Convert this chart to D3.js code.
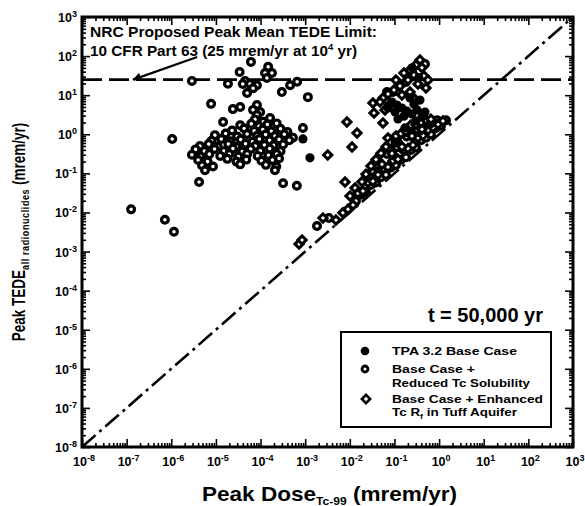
<!DOCTYPE html>
<html>
<head>
<meta charset="utf-8">
<title>Peak TEDE vs Peak Tc-99 Dose</title>
<script src="https://d3js.org/d3.v7.min.js"></script>
<style>
  body { margin: 0; background: #fff; }
  text { font-family: "Liberation Sans", Arial, sans-serif; font-weight: bold; fill: #000; }
</style>
</head>
<body>
<div id="chart"></div>
<script>
// ---- data (mrem/yr) ----
const decades = [1e-8, 1e-7, 1e-6, 1e-5, 1e-4, 1e-3, 1e-2, 1e-1, 1e0, 1e1, 1e2, 1e3];
const decadeExp = ["-8", "-7", "-6", "-5", "-4", "-3", "-2", "-1", "0", "1", "2", "3"];
const limitTEDE = 25;                 // proposed limit, mrem/yr
const arrowFrom = [3.8e-6, 95];
const arrowTo = [1.4e-7, 25];

// TPA 3.2 base case (filled circles)
const baseCase = [
  [8.9e-4, 0.76], [1.28e-3, 0.25], [0.088, 6.7], [0.114, 5.6], [0.147, 4.7], [0.19, 3.9],
  [0.247, 3.3], [0.32, 4.2], [0.103, 3.7], [0.163, 2.9], [0.274, 5.9], [0.373, 7.5],
  [0.223, 8.5], [0.12, 2.46], [0.303, 2.18], [0.413, 2.77], [0.12, 0.63], [0.103, 0.6],
  [0.172, 1.45], [0.483, 3.7], [0.0716, 4.7], [0.25, 50], [0.35, 28]
];

// base case + reduced Tc solubility (open circles)
const reducedSolubility = [
  [1.26e-7, 0.012], [7.2e-7, 6.5e-3], [1.15e-6, 3.2e-3], [1.05e-6, 0.76], [4.2e-6, 0.06],
  [2.9e-6, 23], [7.8e-6, 6.0], [1.45e-5, 2.06], [1.86e-5, 19.6], [3.4e-5, 39], [6.1e-5, 71],
  [5.0e-5, 11.4], [4.5e-5, 23], [4.0e-5, 19.3], [5.8e-5, 19.3], [8.3e-5, 18], [6.8e-5, 15],
  [1.48e-4, 53], [1.8e-4, 37], [1.26e-4, 37], [1.39e-4, 27.5], [3.0e-4, 12], [4.6e-4, 18],
  [6.6e-4, 22], [2.4e-5, 4.4], [3.5e-5, 5.0], [8.3e-5, 5.6], [6.8e-5, 4.2], [9.8e-5, 3.7],
  [8.3e-5, 3.1], [3.2e-4, 0.056], [6.5e-4, 0.048], [1.15e-3, 8.9], [8.9e-4, 1.45],
  [7.5e-5, 2.4], [1.15e-4, 2.1], [1.63e-4, 2.6],
  [3.5e-5, 1.7], [6.2e-5, 1.85], [9.2e-5, 1.6], [1.42e-4, 1.78], [2.3e-4, 1.9],
  [2.3e-5, 1.25], [4.3e-5, 1.4], [7.2e-5, 1.22], [1.12e-4, 1.32], [1.75e-4, 1.2], [2.8e-4, 1.38], [4.0e-4, 1.15],
  [9.5e-6, 0.95], [1.65e-5, 1.05], [3.0e-5, 0.88], [5.0e-5, 1.02], [8.4e-5, 0.92], [1.3e-4, 0.98],
  [2.1e-4, 0.9], [3.4e-4, 1.0], [5.3e-4, 0.82],
  [8.0e-6, 0.68], [1.32e-5, 0.76], [2.1e-5, 0.66], [3.6e-5, 0.73], [6.6e-5, 0.64], [9.4e-5, 0.76],
  [1.6e-4, 0.7], [2.6e-4, 0.74], [4.4e-4, 0.7],
  [4.4e-6, 0.5], [6.9e-6, 0.56], [1.1e-5, 0.48], [1.9e-5, 0.56], [2.9e-5, 0.48], [4.6e-5, 0.57],
  [7.6e-5, 0.5], [1.22e-4, 0.53], [1.95e-4, 0.52], [3.2e-4, 0.55],
  [3.5e-6, 0.41], [5.5e-6, 0.37], [9.3e-6, 0.42], [1.5e-5, 0.37], [2.4e-5, 0.43], [3.9e-5, 0.36],
  [6.0e-5, 0.42], [9.9e-5, 0.38], [1.6e-4, 0.43], [2.8e-4, 0.37],
  [2.9e-6, 0.3], [4.5e-6, 0.27], [7.1e-6, 0.31], [1.25e-5, 0.28], [2.0e-5, 0.31], [3.2e-5, 0.27],
  [5.0e-5, 0.31], [8.6e-5, 0.28], [1.5e-4, 0.29], [2.3e-4, 0.31],
  [4.0e-6, 0.22], [6.5e-6, 0.2], [1.8e-5, 0.235], [2.9e-5, 0.2], [4.8e-5, 0.225], [1.05e-4, 0.21],
  [1.85e-4, 0.22], [2.6e-4, 0.24],
  [4.9e-6, 0.16], [8.6e-6, 0.15], [3.5e-5, 0.17], [1.32e-4, 0.165], [2.25e-4, 0.15],
  [5.7e-6, 0.12], [2.1e-4, 0.12],
  [1.84e-3, 4.5e-3], [3.4e-3, 7.2e-3],
  [0.0137, 0.0195], [0.0178, 0.0285], [0.023, 0.0327], [0.0298, 0.0507], [0.0386, 0.0583],
  [0.0499, 0.0798], [0.0646, 0.0917], [0.0836, 0.142], [0.108, 0.163], [0.14, 0.224],
  [0.181, 0.257], [0.234, 0.398], [0.303, 0.458], [0.393, 0.707], [0.508, 0.813],
  [0.658, 0.994], [0.851, 1.45], [1.10, 1.66], [1.43, 2.29],
  [0.0242, 0.07], [0.0406, 0.167], [0.068, 0.314], [0.114, 0.469], [0.19, 0.878],
  [0.32, 1.32], [0.535, 1.96], [0.895, 2.3],
  [0.247, 39], [0.181, 21.7], [0.068, 12.1], [0.0927, 12.1], [0.26, 8.5], [0.483, 63]
];

// base case + enhanced Tc Rf in tuff aquifer (open diamonds)
const enhancedRf = [
  [7.3e-4, 1.56e-3], [8.5e-4, 1.97e-3], [2.5e-3, 7.2e-3], [4.9e-3, 6.4e-3], [7.0e-3, 9.8e-3],
  [9.1e-3, 0.012], [0.0118, 0.0155],
  [7.8e-3, 0.06], [0.0101, 0.0264], [0.0131, 0.042], [0.0187, 0.0315], [8.6e-3, 2.06],
  [0.0145, 1.08], [0.0112, 0.47], [3.2e-3, 0.295], [0.033, 6.3], [0.0348, 3.5], [0.0553, 1.94],
  [0.0716, 0.8],
  [0.0152, 0.0309], [0.0197, 0.0355], [0.0255, 0.0581], [0.033, 0.063], [0.0428, 0.092],
  [0.0553, 0.134], [0.0716, 0.145], [0.0927, 0.211], [0.12, 0.229], [0.155, 0.398],
  [0.201, 0.432], [0.26, 0.528], [0.337, 0.816], [0.436, 0.937], [0.564, 1.29],
  [0.73, 1.48], [0.944, 1.8], [1.22, 2.2],
  [0.0187, 0.0608], [0.0313, 0.115], [0.0525, 0.171], [0.088, 0.322], [0.147, 0.478],
  [0.247, 0.904], [0.413, 1.34], [0.692, 2.0],
  [0.023, 0.0945], [0.0298, 0.155], [0.0386, 0.226], [0.0499, 0.328], [0.0646, 0.479],
  [0.0836, 0.619], [0.108, 0.9], [0.14, 1.04], [0.181, 1.19], [0.234, 1.73], [0.303, 1.77],
  [0.393, 2.04], [0.508, 2.35], [0.658, 2.41],
  [0.373, 79], [0.303, 59], [0.413, 50], [0.223, 44], [0.274, 33], [0.458, 31], [0.163, 37],
  [0.201, 24.5], [0.337, 19.3], [0.133, 17.2], [0.508, 15.3], [0.0975, 13.6], [0.223, 12.1],
  [0.0716, 10.7], [0.147, 10.1], [0.0553, 8.5], [0.0474, 6.7], [0.0794, 5.9], [0.0614, 4.2],
  [0.108, 24.5], [0.564, 24.5]
];

const legendItems = [
  { kind: "filled", lines: ["TPA 3.2 Base Case"], widths: [125] },
  { kind: "circle", lines: ["Base Case +", "Reduced Tc Solubility"], widths: [83, 138] },
  { kind: "diamond", lines: ["Base Case + Enhanced", "Tc R|f| in Tuff Aquifer"], widths: [151, 125] }
];

// ---- chart ----
const width = 585, height = 506;
const svg = d3.select("#chart").append("svg")
  .attr("width", width).attr("height", height);

const x = d3.scaleLog().domain([1e-8, 1e3]).range([82, 573]);
const y = d3.scaleLog().domain([1e-8, 1e3]).range([447, 17]);

// minor ticks 2..9 within each decade
const minor = [];
decades.slice(0, -1).forEach(d => { for (let k = 2; k < 10; k++) minor.push(d * k); });

function tickLayer(axis, transform, size, values) {
  svg.append("g").attr("transform", transform)
    .call(axis.tickValues(values).tickSize(size).tickFormat(""))
    .call(g => g.select(".domain").remove())
    .call(g => g.selectAll("line").attr("stroke-width", 1.6));
}
// ticks point inward on all four sides
tickLayer(d3.axisBottom(x), "translate(0,447)", -8, decades);
tickLayer(d3.axisBottom(x), "translate(0,447)", -4, minor);
tickLayer(d3.axisTop(x), "translate(0,17)", -8, decades);
tickLayer(d3.axisTop(x), "translate(0,17)", -4, minor);
tickLayer(d3.axisLeft(y), "translate(82,0)", -8, decades);
tickLayer(d3.axisLeft(y), "translate(82,0)", -4, minor);
tickLayer(d3.axisRight(y), "translate(573,0)", -8, decades);
tickLayer(d3.axisRight(y), "translate(573,0)", -4, minor);

// tick labels with superscript exponents
const yLab = svg.append("g").selectAll("text").data(decades).join("text")
  .attr("x", 77).attr("y", d => y(d) + 5)
  .attr("text-anchor", "end").attr("font-size", 12.5);
yLab.append("tspan").text("10");
yLab.append("tspan").attr("dy", -5).attr("font-size", 9).text((d, i) => decadeExp[i]);

const xLab = svg.append("g").selectAll("text").data(decades).join("text")
  .attr("x", d => x(d) + 2).attr("y", 466)
  .attr("text-anchor", "middle").attr("font-size", 12.5);
xLab.append("tspan").text("10");
xLab.append("tspan").attr("dy", -5).attr("font-size", 9).text((d, i) => decadeExp[i]);

// 1:1 line and proposed limit
svg.append("line")
  .attr("x1", x(1e-8)).attr("y1", y(1e-8)).attr("x2", x(1e3)).attr("y2", y(1e3))
  .attr("stroke", "#000").attr("stroke-width", 2.6)
  .attr("stroke-dasharray", "18,5,3,5");
svg.append("line")
  .attr("x1", x(1e-8)).attr("x2", x(1e3))
  .attr("y1", y(limitTEDE)).attr("y2", y(limitTEDE))
  .attr("stroke", "#000").attr("stroke-width", 2.8)
  .attr("stroke-dasharray", "20,7");

// points
const g = svg.append("g");
g.selectAll(".rs").data(reducedSolubility).join("circle")
  .attr("cx", d => x(d[0])).attr("cy", d => y(d[1])).attr("r", 3.4)
  .attr("fill", "#fff").attr("stroke", "#000").attr("stroke-width", 3.2);
const diamond = d3.symbol().type(d3.symbolSquare).size(34);
g.selectAll(".rf").data(enhancedRf).join("path")
  .attr("d", diamond)
  .attr("transform", d => `translate(${x(d[0])},${y(d[1])}) rotate(45)`)
  .attr("fill", "#fff").attr("stroke", "#000").attr("stroke-width", 3);
g.selectAll(".bc").data(baseCase).join("circle")
  .attr("cx", d => x(d[0])).attr("cy", d => y(d[1])).attr("r", 4.6)
  .attr("fill", "#000");

// frame
svg.append("rect").attr("x", 82).attr("y", 17).attr("width", 491).attr("height", 430)
  .attr("fill", "none").attr("stroke", "#000").attr("stroke-width", 3);

// annotation + arrow
svg.append("defs").append("marker")
  .attr("id", "head").attr("viewBox", "0 0 10 10").attr("refX", 9).attr("refY", 5)
  .attr("markerWidth", 5).attr("markerHeight", 4).attr("orient", "auto")
  .append("path").attr("d", "M0,0L10,5L0,10Z").attr("fill", "#000");
svg.append("line")
  .attr("x1", x(arrowFrom[0])).attr("y1", y(arrowFrom[1]))
  .attr("x2", x(arrowTo[0])).attr("y2", y(arrowTo[1]))
  .attr("stroke", "#000").attr("stroke-width", 2.2).attr("marker-end", "url(#head)");

svg.append("text").attr("x", 90).attr("y", 37).attr("font-size", 14.5)
  .attr("textLength", 287).attr("lengthAdjust", "spacingAndGlyphs")
  .text("NRC Proposed Peak Mean TEDE Limit:");
const ann2 = svg.append("text").attr("x", 90).attr("y", 56).attr("font-size", 14.5)
  .attr("textLength", 267).attr("lengthAdjust", "spacingAndGlyphs");
ann2.append("tspan").text("10 CFR Part 63 (25 mrem/yr at 10");
ann2.append("tspan").attr("dy", -6).attr("font-size", 9).text("4");
ann2.append("tspan").attr("dy", 6).text(" yr)");

svg.append("text").attr("x", 543).attr("y", 322).attr("text-anchor", "end")
  .attr("font-size", 20).text("t = 50,000 yr");

// legend
const leg = svg.append("g");
leg.append("rect").attr("x", 341).attr("y", 332).attr("width", 210).attr("height", 95)
  .attr("fill", "#fff").attr("stroke", "#000").attr("stroke-width", 2);
const legY = [[355], [373, 387], [403, 416]];
legendItems.forEach((item, i) => {
  const my = legY[i][0] - 4;
  if (item.kind === "filled") {
    leg.append("circle").attr("cx", 365).attr("cy", my).attr("r", 4.3).attr("fill", "#000");
  } else if (item.kind === "circle") {
    leg.append("circle").attr("cx", 365).attr("cy", my).attr("r", 3)
      .attr("fill", "#fff").attr("stroke", "#000").attr("stroke-width", 2.8);
  } else {
    leg.append("path").attr("d", diamond)
      .attr("transform", `translate(366,${my}) rotate(45)`)
      .attr("fill", "#fff").attr("stroke", "#000").attr("stroke-width", 2.6);
  }
  item.lines.forEach((line, j) => {
    const t = leg.append("text").attr("x", 392).attr("y", legY[i][j]).attr("font-size", 11.5)
      .attr("textLength", item.widths[j]).attr("lengthAdjust", "spacingAndGlyphs");
    const parts = line.split("|");
    t.append("tspan").text(parts[0]);
    if (parts.length > 1) {
      t.append("tspan").attr("dy", 3).attr("font-size", 7.5).text(parts[1]);
      t.append("tspan").attr("dy", -3).text(parts[2]);
    }
  });
});

// axis titles
const xt = svg.append("text").attr("x", 202).attr("y", 501)
  .attr("font-size", 20.5).attr("textLength", 255).attr("lengthAdjust", "spacingAndGlyphs");
xt.append("tspan").text("Peak Dose");
xt.append("tspan").attr("dy", 4).attr("font-size", 11).text("Tc-99");
xt.append("tspan").attr("dy", -4).text(" (mrem/yr)");

const yt = svg.append("text").attr("text-anchor", "middle")
  .attr("transform", "translate(25,232) rotate(-90) scale(1,1.3)")
  .attr("font-size", 13.5);
yt.append("tspan").text("Peak TEDE");
yt.append("tspan").attr("dy", 3).attr("font-size", 9).attr("letter-spacing", 0.6)
  .text("all radionuclides");
yt.append("tspan").attr("dy", -3).text(" (mrem/yr)");
</script>
</body>
</html>
